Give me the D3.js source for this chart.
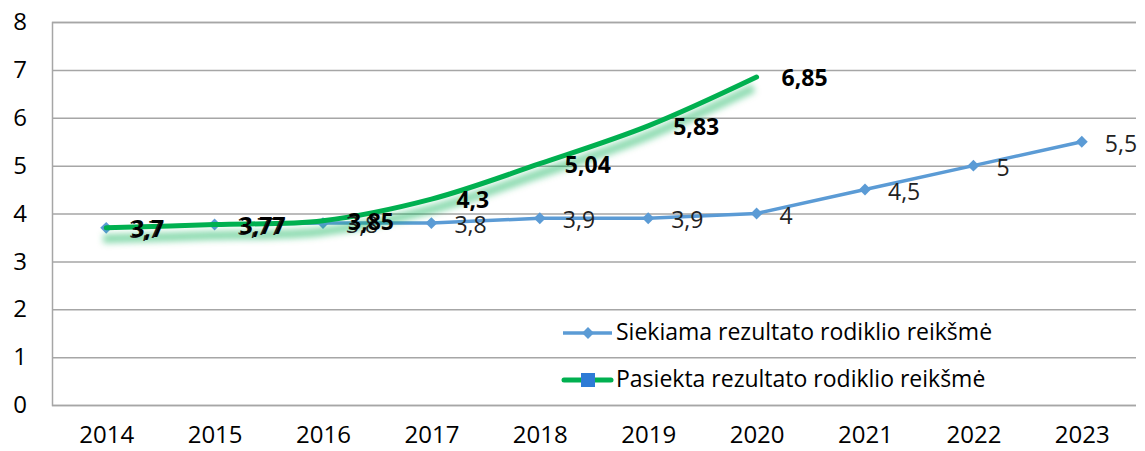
<!DOCTYPE html>
<html>
<head>
<meta charset="utf-8">
<script src="https://cdn.jsdelivr.net/npm/d3@7"></script>
<style>
  body { margin: 0; background: #fff; }
  svg { font-family: "Open Sans", sans-serif; }
</style>
</head>
<body>
<svg id="chart" width="1145" height="451"></svg>
<script>
const years = ["2014", "2015", "2016", "2017", "2018", "2019", "2020", "2021", "2022", "2023"];
const targetValues = [3.7, 3.77, 3.8, 3.8, 3.9, 3.9, 4, 4.5, 5, 5.5];
const achievedYears = ["2014", "2015", "2016", "2017", "2018", "2019", "2020"];
const achievedValues = [3.7, 3.77, 3.85, 4.3, 5.04, 5.83, 6.85];
const yTicks = [0, 1, 2, 3, 4, 5, 6, 7, 8];
const seriesNames = ["Siekiama rezultato rodiklio reikšmė", "Pasiekta rezultato rodiklio reikšmė"];

const width = 1145, height = 451;
const margin = { left: 52, right: 9, top: 22, bottom: 46 };

let svg = d3.select("#chart");
let fmt = v => String(v).replace(".", ",");

let xScale = d3.scalePoint()
  .domain(years)
  .range([margin.left, width - margin.right])
  .padding(0.5);

let yScale = d3.scaleLinear()
  .domain([0, 8])
  .range([height - margin.bottom, margin.top]);

/* ========== GRID & AXES ========== */

let yAxis = d3.axisLeft(yScale).tickValues(yTicks).tickSize(-(width - margin.left - margin.right)).tickPadding(25);
let yAxisSel = svg.append("g").attr("class", "yaxis")
  .attr("transform", "translate(" + margin.left + ",0)")
  .call(yAxis);
yAxisSel.select(".domain").attr("stroke", "#a6a6a6").attr("stroke-width", 1.5);
yAxisSel.selectAll(".tick line").attr("stroke", "#a6a6a6").attr("stroke-width", 1.5);
yAxisSel.selectAll(".tick text").attr("font-size", 24).attr("fill", "#000").attr("font-family", "Open Sans");

let xAxis = d3.axisBottom(xScale).tickSize(0).tickPadding(21);
let xAxisSel = svg.append("g").attr("class", "xaxis")
  .attr("transform", "translate(0," + (height - margin.bottom) + ")")
  .call(xAxis);
xAxisSel.select(".domain").remove();
xAxisSel.selectAll(".tick text").attr("font-size", 24).attr("fill", "#000").attr("font-family", "Open Sans");

/* ========== LINES ========== */

let defs = svg.append("defs");
defs.append("filter").attr("id", "blur")
  .attr("x", "-10%").attr("y", "-50%").attr("width", "120%").attr("height", "200%")
  .append("feGaussianBlur").attr("stdDeviation", 3);

let targetLine = d3.line()
  .x((d, i) => xScale(years[i]))
  .y(d => yScale(d));

svg.append("path")
  .datum(targetValues)
  .attr("fill", "none")
  .attr("stroke", "#5b9bd5")
  .attr("stroke-width", 3.5)
  .attr("d", targetLine);

svg.selectAll("path.diamond")
  .data(targetValues)
  .join("path")
  .attr("class", "diamond")
  .attr("fill", "#5b9bd5")
  .attr("d", d3.symbol(d3.symbolDiamond2, 90))
  .attr("transform", (d, i) => "translate(" + xScale(years[i]) + "," + yScale(d) + ")");

let achievedLine = d3.line()
  .x((d, i) => xScale(achievedYears[i]))
  .y(d => yScale(d))
  .curve(d3.curveCatmullRom.alpha(0.5));

// soft shadow under the green line
svg.append("path")
  .datum(achievedValues)
  .attr("fill", "none")
  .attr("stroke", "#00b050")
  .attr("stroke-opacity", 0.45)
  .attr("stroke-width", 9)
  .attr("filter", "url(#blur)")
  .attr("transform", "translate(-3,11)")
  .attr("d", achievedLine);

svg.append("path")
  .datum(achievedValues)
  .attr("fill", "none")
  .attr("stroke", "#00b050")
  .attr("stroke-width", 5)
  .attr("stroke-linecap", "round")
  .attr("d", achievedLine);

/* ========== DATA LABELS ========== */

svg.append("g").selectAll("text")
  .data(targetValues)
  .join("text")
  .attr("x", (d, i) => xScale(years[i]) + 23)
  .attr("y", d => yScale(d) + 4)
  .attr("dominant-baseline", "middle")
  .attr("font-size", 23)
  .attr("fill", "#222")
  .text(d => fmt(d));

svg.append("g").selectAll("text")
  .data(achievedValues)
  .join("text")
  .attr("x", (d, i) => xScale(achievedYears[i]) + 25)
  .attr("y", d => yScale(d) + 3)
  .attr("dominant-baseline", "middle")
  .attr("font-size", 23)
  .attr("font-weight", "bold")
  .attr("fill", "#000")
  .text(d => fmt(d));

/* ========== LEGEND ========== */

let legendSel = svg.append("g").attr("class", "legend");
let legendY = [333, 380];

legendSel.append("line")
  .attr("x1", 563).attr("x2", 612).attr("y1", legendY[0]).attr("y2", legendY[0])
  .attr("stroke", "#5b9bd5").attr("stroke-width", 3.5);
legendSel.append("path")
  .attr("d", d3.symbol(d3.symbolDiamond2, 90))
  .attr("fill", "#5b9bd5")
  .attr("transform", "translate(588," + legendY[0] + ")");

legendSel.append("line")
  .attr("x1", 564).attr("x2", 611).attr("y1", legendY[1]).attr("y2", legendY[1])
  .attr("stroke", "#00b050").attr("stroke-width", 5).attr("stroke-linecap", "round");
legendSel.append("rect")
  .attr("x", 581).attr("y", legendY[1] - 7).attr("width", 14).attr("height", 14)
  .attr("fill", "#2e7bd6");

legendSel.selectAll("text")
  .data(seriesNames)
  .join("text")
  .attr("x", 616)
  .attr("y", (d, i) => legendY[i] + 1)
  .attr("dominant-baseline", "middle")
  .attr("font-size", 23)
  .attr("fill", "#000")
  .text(d => d);
</script>
</body>
</html>
